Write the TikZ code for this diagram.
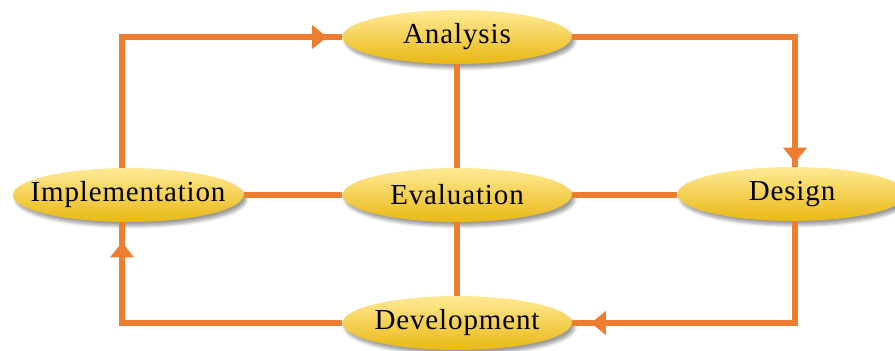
\documentclass[tikz,border=0pt]{standalone}
\usepackage{fontspec}
\setmainfont{Liberation Serif}[LetterSpace=3]
\usetikzlibrary{arrows.meta, positioning, shapes.geometric, shadows.blur}
\definecolor{flowline}{HTML}{ED7D31}
\definecolor{goldtop}{HTML}{FFEA96}
\definecolor{goldbot}{HTML}{E9B813}
\begin{document}
\begin{tikzpicture}[line join=miter,
    phase/.style={ellipse, minimum width=4.58cm, minimum height=1.08cm,
      inner xsep=-0.32cm, inner ysep=0pt,
      top color=goldtop, bottom color=goldbot, draw=none,
      blur shadow={shadow xshift=0.06cm, shadow yshift=-0.08cm, shadow opacity=40, shadow blur steps=6},
      font=\fontsize{16.5}{19}\selectfont},
    link/.style={draw=flowline, line width=3.5pt},
    flow/.style={link, postaction={draw=flowline, line width=3.5pt,
      -{Triangle[length=0.3cm, width=0.46cm]}, shorten >=#1}},
    flow/.default=0.3cm]
  \useasboundingbox (0,0) rectangle (17.9,7.02);
  \node[phase] (ana) at (9.14,6.28) {Analysis};
  \node[phase] (eva) at (9.14,3.12) {Evaluation};
  \node[phase] (imp) at (2.56,3.12) {Implementation};
  \node[phase] (des) at (15.84,3.14) {Design};
  \node[phase] (dev) at (9.14,0.56) {Development};
  % links through the centre
  \draw[link] (ana.south) -- (eva.north);
  \draw[link] (eva.south) -- (dev.north);
  \draw[link] (imp.east) -- (eva.west);
  \draw[link] (eva.east) -- (eva.east -| des.west);
  % outer cycle
  \draw[flow=0.3cm] ([xshift=-0.12cm]imp.north) |- (ana.west);
  \draw[flow=0.08cm] (ana.east) -| ([xshift=0.06cm]des.north);
  \draw[flow=0.38cm] ([xshift=0.06cm]des.south) |- (dev.east);
  \draw[flow=0.4cm] (dev.west) -| ([xshift=-0.12cm]imp.south);
\end{tikzpicture}
\end{document}
